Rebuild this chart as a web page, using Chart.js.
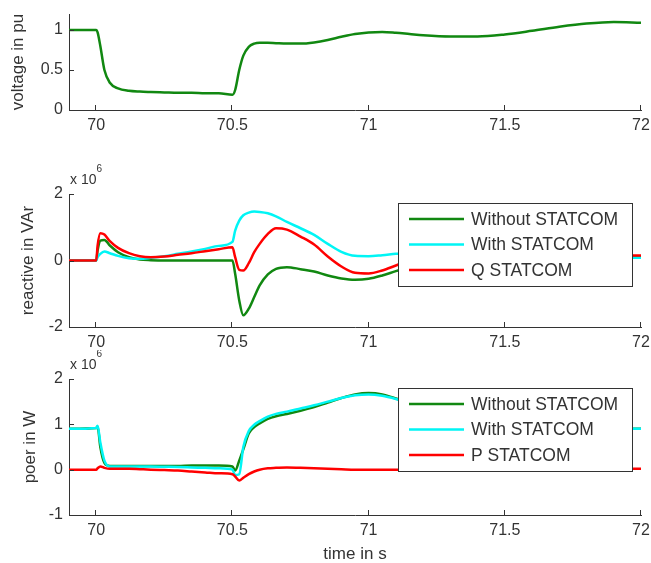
<!DOCTYPE html>
<html>
<head>
<meta charset="utf-8">
<script src="https://cdn.jsdelivr.net/npm/chart.js@4.4.1/dist/chart.umd.min.js"></script>
<style>
  body { margin: 0; background: #fff; }
  #wrap { position: relative; width: 651px; height: 563px; }
  canvas { position: absolute; left: 0; }
</style>
</head>
<body>
<div id="wrap">
  <canvas id="voltage" width="651" height="145" style="top:0px"></canvas>
  <canvas id="reactive" width="651" height="205" style="top:145px"></canvas>
  <canvas id="power" width="651" height="213" style="top:350px"></canvas>
</div>
<script>
// time axis (s), shared by all three plots
const timeS = [69.9, 70.0, 70.005, 70.015, 70.03, 70.05, 70.08, 70.12, 70.16, 70.2,
  70.25, 70.3, 70.35, 70.4, 70.45, 70.5, 70.51, 70.525, 70.54, 70.56,
  70.58, 70.6, 70.63, 70.66, 70.7, 70.75, 70.8, 70.85, 70.9, 70.95,
  71.0, 71.05, 71.1, 71.15, 71.2, 71.3, 71.4, 71.5, 71.6, 71.7,
  71.8, 71.9, 72.0];

// voltage in pu
const voltagePu = [1.0, 1.0, 0.97, 0.8, 0.5, 0.34, 0.27, 0.24, 0.23, 0.225,
  0.22, 0.215, 0.215, 0.21, 0.21, 0.19, 0.25, 0.5, 0.68, 0.79,
  0.83, 0.84, 0.84, 0.835, 0.83, 0.83, 0.845, 0.875, 0.915, 0.95,
  0.97, 0.975, 0.965, 0.95, 0.935, 0.92, 0.92, 0.945, 0.99, 1.04,
  1.08, 1.1, 1.09];

// reactive power, x 10^6 VAr
const qWithout = [0, 0, 0.3, 0.6, 0.62, 0.45, 0.25, 0.1, 0.03, 0.01,
  0, 0, 0, 0, 0, 0, -0.4, -1.2, -1.65, -1.45,
  -1.1, -0.75, -0.42, -0.25, -0.2, -0.26, -0.33, -0.45, -0.54, -0.58,
  -0.55, -0.45, -0.32, -0.2, -0.08, 0.06, 0.11, 0.12, 0.11, 0.1,
  0.1, 0.1, 0.1];
const qWith = [0, 0, 0.1, 0.2, 0.27, 0.22, 0.14, 0.07, 0.05, 0.08,
  0.13, 0.2, 0.27, 0.35, 0.44, 0.56, 0.9, 1.2, 1.36, 1.44,
  1.47, 1.46, 1.42, 1.33, 1.16, 0.97, 0.77, 0.5, 0.26, 0.14,
  0.13, 0.16, 0.2, 0.23, 0.22, 0.16, 0.11, 0.09, 0.08, 0.08,
  0.08, 0.08, 0.08];
const qStatcom = [0, 0, 0.45, 0.82, 0.78, 0.58, 0.38, 0.22, 0.13, 0.1,
  0.12, 0.17, 0.22, 0.28, 0.34, 0.4, 0.1, -0.28, -0.3, -0.08,
  0.25, 0.5, 0.8, 0.97, 0.93, 0.72, 0.48, 0.12, -0.18, -0.37,
  -0.39, -0.3, -0.15, 0.0, 0.1, 0.2, 0.18, 0.15, 0.13, 0.13,
  0.14, 0.15, 0.15];

// active power, x 10^6 W
const pWithout = [0.9, 0.92, 0.95, 0.5, 0.15, 0.08, 0.08, 0.08, 0.08, 0.08,
  0.08, 0.08, 0.09, 0.09, 0.09, 0.07, -0.02, 0.2, 0.45, 0.8,
  0.94, 1.02, 1.12, 1.18, 1.23, 1.3, 1.38, 1.48, 1.58, 1.66,
  1.69, 1.66, 1.57, 1.46, 1.36, 1.2, 1.08, 1.0, 0.95, 0.92,
  0.9, 0.9, 0.9];
const pWith = [0.9, 0.92, 0.97, 0.6, 0.2, 0.07, 0.07, 0.07, 0.07, 0.07,
  0.065, 0.06, 0.05, 0.04, 0.03, 0.0, -0.12, -0.1, 0.5, 0.85,
  0.99, 1.07, 1.17, 1.23, 1.28, 1.35, 1.42, 1.5, 1.58, 1.64,
  1.66, 1.63, 1.56, 1.47, 1.37, 1.2, 1.07, 0.99, 0.94, 0.91,
  0.9, 0.9, 0.9];
const pStatcom = [0, 0, 0.03, 0.07, 0.04, 0.02, 0.02, 0.02, 0.01, 0.0,
  -0.01, -0.02, -0.04, -0.06, -0.08, -0.1, -0.15, -0.24, -0.18, -0.1,
  -0.04, 0.0, 0.03, 0.04, 0.05, 0.04, 0.03, 0.02, 0.01, 0.0,
  0.0, 0.0, 0.0, 0.0, 0.0, 0.0, 0.01, 0.01, 0.01, 0.01,
  0.01, 0.02, 0.02];

// tick labels
const xTicks = [70, 70.5, 71, 71.5, 72];
const voltTicks = [0, 0.5, 1];
const reactTicks = [-2, 0, 2];
const powerTicks = [-1, 0, 1, 2];

const axisColor = '#333';
const textColor = '#333';
const fontFam = '"Liberation Sans", Arial, sans-serif';
const green = '#118811';
const cyan = '#00f5f5';
const red = '#ff0000';

// matlab style ticks pointing into the plot
const inwardTicks = {
  id: 'inwardTicks',
  afterDraw(chart) {
    const { ctx, chartArea: a, scales: { x, y } } = chart;
    ctx.save();
    ctx.strokeStyle = axisColor;
    ctx.lineWidth = 1;
    ctx.beginPath();
    x.ticks.forEach((t) => {
      const px = Math.round(x.getPixelForValue(t.value)) - 0.5;
      ctx.moveTo(px, a.bottom);
      ctx.lineTo(px, a.bottom - 5);
    });
    y.ticks.forEach((t) => {
      const py = Math.round(y.getPixelForValue(t.value)) + 0.5;
      ctx.moveTo(a.left, py);
      ctx.lineTo(a.left + 5, py);
    });
    ctx.stroke();
    ctx.restore();
  },
};

// "x 10^6" above the y axis
const multiplier = {
  id: 'multiplier',
  afterDraw(chart) {
    const { ctx, chartArea: a } = chart;
    ctx.save();
    ctx.fillStyle = textColor;
    ctx.textBaseline = 'middle';
    ctx.font = '14px ' + fontFam;
    ctx.fillText('x 10', a.left + 1, a.top - 14);
    const w = ctx.measureText('x 10').width;
    ctx.font = '10px ' + fontFam;
    ctx.fillText('6', a.left + 1 + w, a.top - 25);
    ctx.restore();
  },
};

// boxed legend inside the plot, top right, covering the lines
const boxLegend = {
  id: 'boxLegend',
  afterDatasetsDraw(chart) {
    const { ctx, chartArea: a } = chart;
    const w = 234, h = 83;
    const left = a.right - 9 - w, top = a.top + 9;
    ctx.save();
    ctx.fillStyle = '#fff';
    ctx.fillRect(left, top, w, h);
    ctx.strokeStyle = axisColor;
    ctx.lineWidth = 1;
    ctx.strokeRect(left + 0.5, top + 0.5, w, h);
    ctx.font = '17.5px ' + fontFam;
    ctx.textBaseline = 'middle';
    chart.data.datasets.forEach((ds, i) => {
      const ry = top + 16 + i * 25.5;
      ctx.strokeStyle = ds.borderColor;
      ctx.lineWidth = 2.5;
      ctx.beginPath();
      ctx.moveTo(left + 11, ry);
      ctx.lineTo(left + 66, ry);
      ctx.stroke();
      ctx.fillStyle = textColor;
      ctx.fillText(ds.label, left + 73, ry + 1);
    });
    ctx.restore();
  },
};

const toPoints = (vals) => timeS.map((t, i) => ({ x: t, y: vals[i] }));

const line = (label, vals, color, order) => ({
  label,
  data: toPoints(vals),
  borderColor: color,
  backgroundColor: color,
  borderWidth: 2.5,
  pointRadius: 0,
  cubicInterpolationMode: 'monotone',
  order,
});

const make_panel = (id, datasets, p) => {
  const xScale = {
    type: 'linear',
    min: 69.9,
    max: 72,
    afterBuildTicks: (s) => { s.ticks = xTicks.map((v) => ({ value: v })); },
    afterFit: (s) => {
      s.height = p.xHeight;
      // let the last label hang over the edge like matlab does
      s.paddingLeft = 0;
      s.paddingRight = 0;
    },
    grid: { display: false, drawTicks: false },
    border: { display: true, color: axisColor, width: 1 },
    ticks: {
      color: textColor,
      padding: 6,
      maxRotation: 0,
      font: { family: fontFam, size: 16 },
      callback: (v) => String(v),
    },
  };
  if (p.xTitle) {
    xScale.title = {
      display: true,
      text: p.xTitle,
      color: textColor,
      padding: { top: 0, bottom: 0 },
      font: { family: fontFam, size: 17, lineHeight: 1 },
    };
  }
  return new Chart(document.getElementById(id), {
    type: 'line',
    data: { datasets },
    options: {
      responsive: false,
      animation: false,
      layout: { padding: { left: 0, right: 10, top: p.top, bottom: 0 } },
      plugins: { legend: { display: false }, tooltip: { enabled: false } },
      scales: {
        x: xScale,
        y: {
          type: 'linear',
          min: p.yMin,
          max: p.yMax,
          afterBuildTicks: (s) => { s.ticks = p.yTicks.map((v) => ({ value: v })); },
          afterFit: (s) => { s.width = 69; s.paddingTop = 0; s.paddingBottom = 0; },
          grid: { display: false, drawTicks: false },
          border: { display: true, color: axisColor, width: 1 },
          ticks: {
            color: textColor,
            padding: 6,
            font: { family: fontFam, size: 16 },
            callback: (v) => String(v),
          },
          title: {
            display: true,
            text: p.yTitle,
            color: textColor,
            padding: { top: p.titlePad, bottom: 0 },
            font: { family: fontFam, size: 17 },
          },
        },
      },
    },
    plugins: p.plugins,
  });
};

make_panel('voltage', [line('voltage', voltagePu, green, 1)], {
  top: 14, xHeight: 35, yMin: 0, yMax: 1.2, yTicks: voltTicks,
  yTitle: 'voltage in pu', titlePad: 8, plugins: [inwardTicks],
});

make_panel('reactive', [
  line('Without STATCOM', qWithout, green, 3),
  line('With STATCOM', qWith, cyan, 2),
  line('Q STATCOM', qStatcom, red, 1),
], {
  top: 49, xHeight: 23, yMin: -2, yMax: 2, yTicks: reactTicks,
  yTitle: 'reactive in VAr', titlePad: 18, plugins: [inwardTicks, multiplier, boxLegend],
});

make_panel('power', [
  line('Without STATCOM', pWithout, green, 3),
  line('With STATCOM', pWith, cyan, 2),
  line('P STATCOM', pStatcom, red, 1),
], {
  top: 29, xHeight: 48, yMin: -1, yMax: 2, yTicks: powerTicks,
  yTitle: 'poer in W', titlePad: 20, xTitle: 'time in s',
  plugins: [inwardTicks, multiplier, boxLegend],
});
</script>
</body>
</html>
